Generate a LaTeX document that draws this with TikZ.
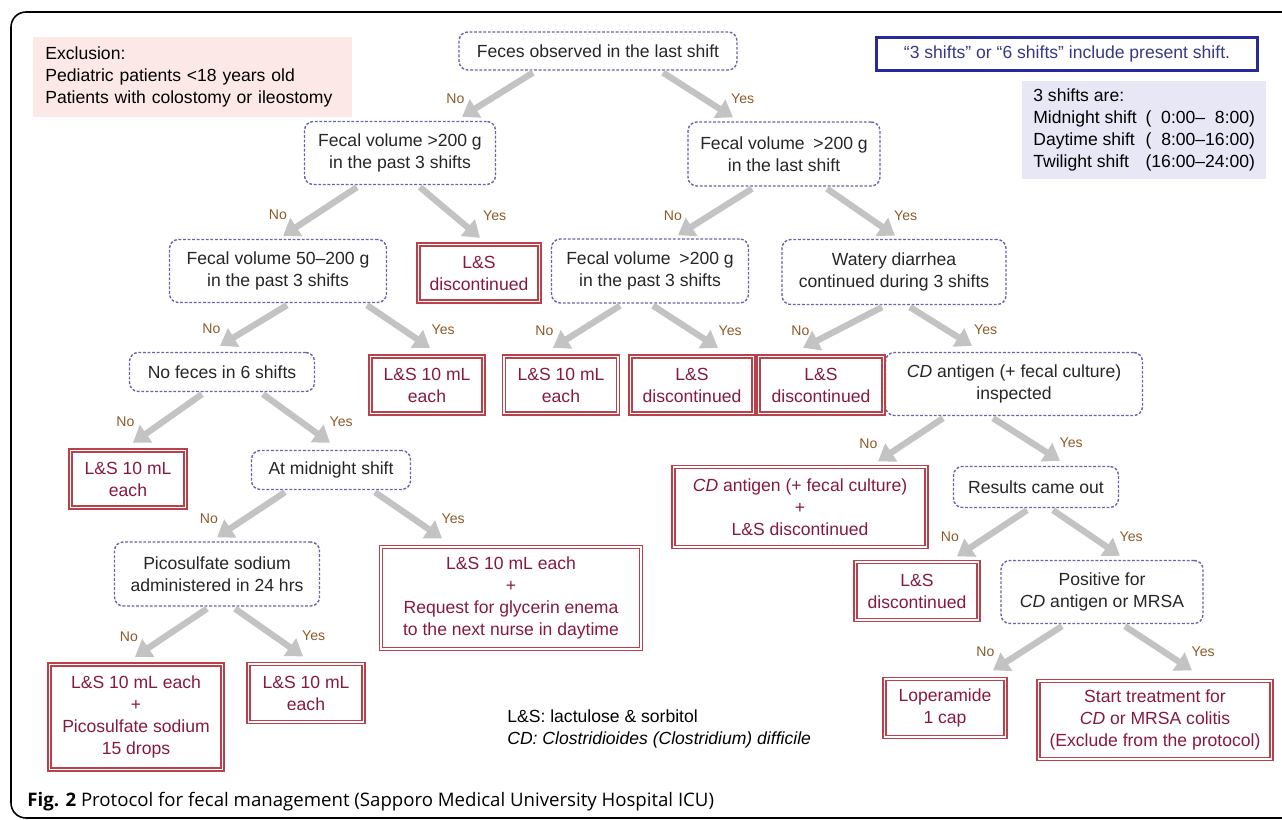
\documentclass[tikz,border=0pt]{standalone}
\usepackage{fontspec}
\setmainfont{Liberation Sans}
\newfontfamily\capfont{Open Sans}
\usetikzlibrary{arrows.meta,calc}
\definecolor{dashblue}{RGB}{100,100,170}
\definecolor{boxred}{RGB}{185,65,75}
\definecolor{textred}{RGB}{135,25,65}
\definecolor{arrowgray}{RGB}{195,195,195}
\definecolor{lblbrown}{RGB}{140,90,40}
\definecolor{pinkbg}{RGB}{252,233,231}
\definecolor{lavbg}{RGB}{231,231,246}
\definecolor{noteblue}{RGB}{40,40,155}
\definecolor{notetext}{RGB}{55,55,135}
\begin{document}
\begin{tikzpicture}[x=0.02cm,y=-0.02cm,font=\fontsize{10}{12.5}\selectfont,
    query/.style={draw=dashblue,line width=0.8pt,dash pattern=on 1.6pt off 1pt,rounded corners=5pt,fill=white,align=center,text=black!85,inner sep=0pt},
    result/.style={draw=boxred,double=white,double distance=1pt,line width=0.75pt,text=textred,align=center,inner sep=0pt},
    flow/.style={draw=arrowgray,line width=3.6pt,-{Triangle[length=0.32cm,width=0.42cm]}},
    nolbl/.style={midway,left=0.6cm,yshift=-2pt,inner sep=0pt,text=lblbrown,font=\fontsize{8}{9}\selectfont},
    yeslbl/.style={midway,right=0.6cm,yshift=-2pt,inner sep=0pt,text=lblbrown,font=\fontsize{8}{9}\selectfont}]
    \useasboundingbox (0,0) rectangle (1282,820);
    \draw[line width=0.9pt,rounded corners=0.3cm] (1300,12) -- (11,12) -- (11,818) -- (1300,818);
    % notes
    \node[fill=pinkbg,anchor=north west,minimum height=1.6cm,text width=5.9cm,align=left,inner xsep=0.24cm] (excl) at (33,37) {Exclusion:\\Pediatric patients <18 years old\\Patients with colostomy or ileostomy};
    \node[draw=noteblue,line width=1.6pt,text=notetext,minimum width=7.62cm,minimum height=0.66cm,inner sep=0pt] (note) at (1067,54) {“3 shifts” or “6 shifts” include present shift.};
    \node[fill=lavbg,anchor=north west,minimum width=4.72cm,minimum height=1.96cm,inner xsep=0.22cm,inner ysep=0pt] (shifts) at (1022,81) {\begin{tabular}{@{}l@{\hspace{5pt}}l@{}}
        \multicolumn{2}{@{}l}{3 shifts are:}\\
        Midnight shift & (\phantom{1}0:00--\phantom{1}8:00)\\
        Daytime shift & (\phantom{1}8:00--16:00)\\
        Twilight shift & (16:00--24:00)
    \end{tabular}};
    % questions
    \node[query,minimum width=5.56cm,minimum height=0.76cm] (feces) at (598,51) {Feces observed in the last shift};
    \node[query,minimum width=3.82cm,minimum height=1.26cm] (pastbig) at (400,153) {Fecal volume >200 g\\in the past 3 shifts};
    \node[query,minimum width=3.84cm,minimum height=1.28cm] (lastbig) at (784,154) {Fecal volume\enspace>200 g\\in the last shift};
    \node[query,minimum width=4.34cm,minimum height=1.26cm] (pastmid) at (278,271) {Fecal volume 50--200 g\\in the past 3 shifts};
    \node[query,minimum width=3.94cm,minimum height=1.28cm] (pastbigb) at (650,271) {Fecal volume\enspace>200 g\\in the past 3 shifts};
    \node[query,minimum width=4.48cm,minimum height=1.30cm] (watery) at (894,272) {Watery diarrhea\\continued during 3 shifts};
    \node[query,minimum width=3.70cm,minimum height=0.78cm] (nofeces) at (222,372) {No feces in 6 shifts};
    \node[query,minimum width=5.14cm,minimum height=1.26cm] (cdtest) at (1014,384) {\textit{CD} antigen (+ fecal culture)\\inspected};
    \node[query,minimum width=3.18cm,minimum height=0.78cm] (midnight) at (331,470) {At midnight shift};
    \node[query,minimum width=3.30cm,minimum height=0.82cm] (results) at (1036,487) {Results came out};
    \node[query,minimum width=4.10cm,minimum height=1.28cm] (pico) at (217,574) {Picosulfate sodium\\administered in 24 hrs};
    \node[query,minimum width=4.04cm,minimum height=1.26cm] (positive) at (1102,592) {Positive for\\\textit{CD} antigen or MRSA};
    % outcomes
    \node[result,minimum width=2.42cm,minimum height=1.14cm] (stop1) at (479,273) {L\&S\\discontinued};
    \node[result,minimum width=2.26cm,minimum height=1.14cm] (dose1) at (427,385) {L\&S 10 mL\\each};
    \node[result,minimum width=2.28cm,minimum height=1.14cm] (dose2) at (561,385) {L\&S 10 mL\\each};
    \node[result,minimum width=2.46cm,minimum height=1.14cm] (stop2) at (692,385) {L\&S\\discontinued};
    \node[result,minimum width=2.50cm,minimum height=1.14cm] (stop3) at (821,385) {L\&S\\discontinued};
    \node[result,minimum width=2.30cm,minimum height=1.14cm] (dose3) at (128,479) {L\&S 10 mL\\each};
    \node[result,minimum width=5.06cm,minimum height=1.60cm] (cdstop) at (800,507) {\textit{CD} antigen (+ fecal culture)\\+\\L\&S discontinued};
    \node[result,minimum width=5.20cm,minimum height=2.04cm] (enema) at (511,598) {L\&S 10 mL each\\+\\Request for glycerin enema\\to the next nurse in daytime};
    \node[result,minimum width=2.46cm,minimum height=1.16cm] (stop4) at (917,591) {L\&S\\discontinued};
    \node[result,minimum width=3.46cm,minimum height=2.10cm] (dosepico) at (136,717) {L\&S 10 mL each\\+\\Picosulfate sodium\\15 drops};
    \node[result,minimum width=2.30cm,minimum height=1.16cm] (dose4) at (306,693) {L\&S 10 mL\\each};
    \node[result,minimum width=2.42cm,minimum height=1.16cm] (lope) at (945,708) {Loperamide\\1 cap};
    \node[result,minimum width=4.66cm,minimum height=1.56cm] (treat) at (1155,720) {Start treatment for\\\textit{CD} or MRSA colitis\\(Exclude from the protocol)};
    % arrows
    \draw[flow] ($(feces.south)+(-65,2)$) -- ($(pastbig.north)+(62,-4)$) node[nolbl] {No};
    \draw[flow] ($(feces.south)+(65,2)$) -- ($(lastbig.north)+(-51,-4)$) node[yeslbl] {Yes};
    \draw[flow] ($(pastbig.south)+(-43,2)$) -- ($(pastmid.north)+(5,-3)$) node[nolbl] {No};
    \draw[flow] ($(pastbig.south)+(20,2)$) -- ($(stop1.north)+(1,-6)$) node[yeslbl] {Yes};
    \draw[flow] ($(lastbig.south)+(-32,2)$) -- ($(pastbigb.north)+(28,-3)$) node[nolbl] {No};
    \draw[flow] ($(lastbig.south)+(43,2)$) -- ($(watery.north)+(1,-3)$) node[yeslbl] {Yes};
    \draw[flow] ($(pastmid.south)+(9,2)$) -- ($(nofeces.north)+(-2,-6)$) node[nolbl] {No};
    \draw[flow] ($(pastmid.south)+(89,2)$) -- ($(dose1.north)+(3,-8)$) node[yeslbl] {Yes};
    \draw[flow] ($(pastbigb.south)+(-30,2)$) -- ($(dose2.north)+(-8,-8)$) node[nolbl] {No};
    \draw[flow] ($(pastbigb.south)+(3,2)$) -- ($(stop2.north)+(26,-8)$) node[yeslbl] {Yes};
    \draw[flow] ($(watery.south)+(-12,2)$) -- ($(stop3.north)+(-18,-8)$) node[nolbl] {No};
    \draw[flow] ($(watery.south)+(16,2)$) -- ($(cdtest.north)+(-42,-6)$) node[yeslbl] {Yes};
    \draw[flow] ($(nofeces.south)+(-20,2)$) -- ($(dose3.north)+(5,-7)$) node[nolbl] {No};
    \draw[flow] ($(nofeces.south)+(41,2)$) -- ($(midnight.north)+(-1,-7)$) node[yeslbl] {Yes};
    \draw[flow] ($(cdtest.south)+(-71,2)$) -- ($(cdstop.north)+(78,-5)$) node[nolbl] {No};
    \draw[flow] ($(cdtest.south)+(-21,2)$) -- ($(results.north)+(24,-5)$) node[yeslbl] {Yes};
    \draw[flow] ($(midnight.south)+(-46,2)$) -- ($(pico.north)+(0,-4)$) node[nolbl] {No};
    \draw[flow] ($(midnight.south)+(44,2)$) -- ($(enema.north)+(-69,-8)$) node[yeslbl] {Yes};
    \draw[flow] ($(results.south)+(-9,2)$) -- ($(stop4.north)+(40,-5)$) node[nolbl] {No};
    \draw[flow] ($(results.south)+(17,2)$) -- ($(positive.north)+(18,-4)$) node[yeslbl] {Yes};
    \draw[flow] ($(pico.south)+(-10,2)$) -- ($(dosepico.north)+(-1,-7)$) node[nolbl] {No};
    \draw[flow] ($(pico.south)+(18,2)$) -- ($(dose4.north)+(-3,-7)$) node[yeslbl] {Yes};
    \draw[flow] ($(positive.south)+(-40,2)$) -- ($(lope.north)+(48,-8)$) node[nolbl] {No};
    \draw[flow] ($(positive.south)+(23,2)$) -- ($(treat.north)+(37,-10)$) node[yeslbl] {Yes};
    % legend and caption
    \node[anchor=west,align=left,inner sep=0pt] (legend) at (507,729) {L\&S: lactulose \& sorbitol\\\textit{CD: Clostridioides (Clostridium) difficile}};
    \node[anchor=west,inner sep=0pt,font=\capfont\fontsize{10.6}{12.5}\selectfont] (caption) at (27,802) {\textbf{Fig. 2} Protocol for fecal management (Sapporo Medical University Hospital ICU)};
\end{tikzpicture}
\end{document}
